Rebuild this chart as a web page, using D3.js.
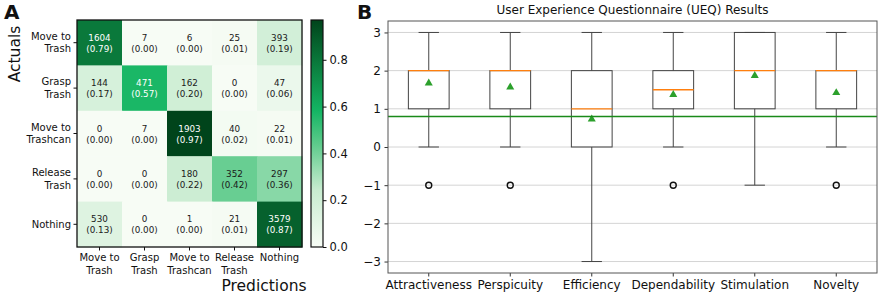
<!DOCTYPE html>
<html>
<head>
<meta charset="utf-8">
<script src="https://cdn.jsdelivr.net/npm/d3@7"></script>
<style>
  body { margin: 0; background: #fff; }
  svg { font-family: "DejaVu Sans", sans-serif; display: block; }
</style>
</head>
<body>
<svg id="chart" width="879" height="295"></svg>
<script>
// Panel A: confusion matrix
const classLabels = ["Move to|Trash", "Grasp|Trash", "Move to|Trashcan", "Release|Trash", "Nothing"]
const counts = [
    [1604, 7, 6, 25, 393],
    [144, 471, 162, 0, 47],
    [0, 7, 1903, 40, 22],
    [0, 0, 180, 352, 297],
    [530, 0, 1, 21, 3579]
]
const fractions = [
    [0.79, 0.00, 0.00, 0.01, 0.19],
    [0.17, 0.57, 0.20, 0.00, 0.06],
    [0.00, 0.00, 0.97, 0.02, 0.01],
    [0.00, 0.00, 0.22, 0.42, 0.36],
    [0.13, 0.00, 0.00, 0.01, 0.87]
]
const colorbarTicks = [0, 0.2, 0.4, 0.6, 0.8]

// Panel B: UEQ box plot
const scales = ["Attractiveness", "Perspicuity", "Efficiency", "Dependability", "Stimulation", "Novelty"]
const whiskerLow = [0, 0, -3, 0, -1, 0]
const q1 = [1, 1, 0, 1, 1, 1]
const medians = [2, 2, 1, 1.5, 2, 2]
const q3 = [2, 2, 2, 2, 3, 2]
const whiskerHigh = [3, 3, 3, 3, 3, 3]
const means = [1.67, 1.57, 0.73, 1.37, 1.87, 1.42]
const outliers = [[-1], [-1], [], [-1], [], [-1]]
const benchmark = 0.8
const yTicks = [-3, -2, -1, 0, 1, 2, 3]

const svg = d3.select("#chart")

// ---------- confusion matrix ----------
const hm = { left: 77, top: 20, right: 302, bottom: 247 }
const idx = d3.range(classLabels.length)

const xCell = d3.scaleBand().domain(idx).range([hm.left, hm.right])
const yCell = d3.scaleBand().domain(idx).range([hm.top, hm.bottom])

const vmax = 0.97
const color = d3.scaleLinear()
    .domain([0, 0.25 * vmax, 0.45 * vmax, 0.6 * vmax, 0.8 * vmax, vmax])
    .range(["#f7fcf5", "#c8ecd0", "#5fcb8c", "#14b563", "#0b7d3e", "#00441b"])
    .clamp(true)

const cells = []
counts.forEach((row, r) => row.forEach((c, k) => cells.push({ r: r, c: k, n: c, f: fractions[r][k] })))

const heat = svg.append("g").attr("class", "heatmap")

heat.selectAll("rect.cell")
    .data(cells)
    .enter().append("rect")
    .attr("class", "cell")
    .attr("x", d => xCell(d.c))
    .attr("y", d => yCell(d.r))
    .attr("width", xCell.bandwidth() + 0.5)
    .attr("height", yCell.bandwidth() + 0.5)
    .attr("fill", d => color(d.f))

const cellText = heat.selectAll("text.cell")
    .data(cells)
    .enter().append("text")
    .attr("class", "cell")
    .attr("text-anchor", "middle")
    .attr("font-size", "8.8px")
    .attr("fill", d => d.f > 0.485 ? "#ffffff" : "#1a1a1a")

cellText.append("tspan")
    .attr("x", d => xCell(d.c) + xCell.bandwidth() / 2)
    .attr("y", d => yCell(d.r) + yCell.bandwidth() / 2 - 2)
    .text(d => d.n)
cellText.append("tspan")
    .attr("x", d => xCell(d.c) + xCell.bandwidth() / 2)
    .attr("y", d => yCell(d.r) + yCell.bandwidth() / 2 + 9)
    .text(d => "(" + d.f.toFixed(2) + ")")

heat.append("rect")
    .attr("x", hm.left).attr("y", hm.top)
    .attr("width", hm.right - hm.left).attr("height", hm.bottom - hm.top)
    .attr("fill", "none").attr("stroke", "#111").attr("stroke-width", 1.3)

// row labels
const rowAxis = heat.append("g")
rowAxis.selectAll("line")
    .data(idx).enter().append("line")
    .attr("x1", hm.left - 3.5).attr("x2", hm.left)
    .attr("y1", d => yCell(d) + yCell.bandwidth() / 2)
    .attr("y2", d => yCell(d) + yCell.bandwidth() / 2)
    .attr("stroke", "#111")
rowAxis.selectAll("text")
    .data(idx).enter().append("text")
    .attr("text-anchor", "end")
    .attr("font-size", "10px")
    .attr("fill", "#111")
    .each(function (d) {
        const parts = classLabels[d].split("|")
        const cy = yCell(d) + yCell.bandwidth() / 2
        const t = d3.select(this)
        parts.forEach((p, i) => {
            t.append("tspan")
                .attr("x", hm.left - 6)
                .attr("y", cy + 3.5 + (i - (parts.length - 1) / 2) * 12.5)
                .text(p)
        })
    })

// column labels
const colAxis = heat.append("g")
colAxis.selectAll("line")
    .data(idx).enter().append("line")
    .attr("y1", hm.bottom).attr("y2", hm.bottom + 3.5)
    .attr("x1", d => xCell(d) + xCell.bandwidth() / 2)
    .attr("x2", d => xCell(d) + xCell.bandwidth() / 2)
    .attr("stroke", "#111")
colAxis.selectAll("text")
    .data(idx).enter().append("text")
    .attr("text-anchor", "middle")
    .attr("font-size", "10px")
    .attr("fill", "#111")
    .each(function (d) {
        const parts = classLabels[d].split("|")
        const t = d3.select(this)
        parts.forEach((p, i) => {
            t.append("tspan")
                .attr("x", xCell(d) + xCell.bandwidth() / 2)
                .attr("y", hm.bottom + 14 + i * 12.5)
                .text(p)
        })
    })

svg.append("text")
    .attr("transform", "translate(20,54) rotate(-90)")
    .attr("text-anchor", "middle")
    .attr("font-size", "15.5px")
    .attr("fill", "#111")
    .text("Actuals")

svg.append("text")
    .attr("x", 264).attr("y", 291)
    .attr("text-anchor", "middle")
    .attr("font-size", "15.5px")
    .attr("fill", "#111")
    .text("Predictions")

// colorbar
const cb = { x: 311, w: 12 }
const cbScale = d3.scaleLinear().domain([0, vmax]).range([hm.bottom, hm.top])
const defs = svg.append("defs")
const grad = defs.append("linearGradient")
    .attr("id", "cbgrad")
    .attr("x1", 0).attr("y1", 1).attr("x2", 0).attr("y2", 0)
d3.range(0, 1.0001, 0.05).forEach(t => {
    grad.append("stop")
        .attr("offset", t)
        .attr("stop-color", color(t * vmax))
})
svg.append("rect")
    .attr("x", cb.x).attr("y", hm.top)
    .attr("width", cb.w).attr("height", hm.bottom - hm.top)
    .attr("fill", "url(#cbgrad)")
    .attr("stroke", "#111").attr("stroke-width", 1.2)

const cbAxis = svg.append("g")
    .attr("transform", "translate(" + (cb.x + cb.w) + ",0)")
    .call(d3.axisRight(cbScale).tickValues(colorbarTicks).tickFormat(d3.format(".1f")).tickSize(3.5).tickPadding(3))
cbAxis.select(".domain").remove()
cbAxis.selectAll("line").attr("stroke", "#111")
cbAxis.selectAll("text").attr("font-size", "11.5px").attr("fill", "#111").attr("font-family", "DejaVu Sans")

// panel letters
svg.append("text").attr("x", 4).attr("y", 19)
    .attr("font-size", "20px").attr("font-weight", "bold").attr("fill", "#111").text("A")
svg.append("text").attr("x", 357).attr("y", 19)
    .attr("font-size", "20px").attr("font-weight", "bold").attr("fill", "#111").text("B")

// ---------- UEQ box plot ----------
const bx = { left: 388, right: 877, top: 21, bottom: 273 }
const x = d3.scaleBand().domain(scales).range([bx.left, bx.right])
const y = d3.scaleLinear().domain([-3.3, 3.3]).range([bx.bottom, bx.top])
const boxW = x.bandwidth() * 0.5
const capW = boxW * 0.5
const cx = s => x(s) + x.bandwidth() / 2

const box = svg.append("g").attr("class", "ueq")

// grid
box.selectAll("line.grid")
    .data(yTicks).enter().append("line")
    .attr("class", "grid")
    .attr("x1", bx.left).attr("x2", bx.right)
    .attr("y1", d => y(d)).attr("y2", d => y(d))
    .attr("stroke", "#d4d4d4").attr("stroke-width", 1)

// y axis
const yAxis = box.append("g")
    .attr("transform", "translate(" + bx.left + ",0)")
    .call(d3.axisLeft(y).tickValues(yTicks).tickFormat(d3.format("d")).tickSize(3.5).tickPadding(3.5))
yAxis.select(".domain").remove()
yAxis.selectAll("line").attr("stroke", "#333")
yAxis.selectAll("text").attr("font-size", "12px").attr("fill", "#111").attr("font-family", "DejaVu Sans")
    .text(d => d < 0 ? "\u2212" + Math.abs(d) : d)

// x axis
const xAxis = box.append("g")
    .attr("transform", "translate(0," + bx.bottom + ")")
    .call(d3.axisBottom(x).tickSize(3.5).tickPadding(4))
xAxis.select(".domain").remove()
xAxis.selectAll("line").attr("stroke", "#333")
xAxis.selectAll("text").attr("font-size", "12px").attr("fill", "#111").attr("font-family", "DejaVu Sans")

const groups = box.selectAll("g.box")
    .data(scales.map((s, i) => ({ s: s, i: i })))
    .enter().append("g").attr("class", "box")

// whiskers
groups.append("line")
    .attr("x1", d => cx(d.s)).attr("x2", d => cx(d.s))
    .attr("y1", d => y(whiskerLow[d.i])).attr("y2", d => y(q1[d.i]))
    .attr("stroke", "#444")
groups.append("line")
    .attr("x1", d => cx(d.s)).attr("x2", d => cx(d.s))
    .attr("y1", d => y(q3[d.i])).attr("y2", d => y(whiskerHigh[d.i]))
    .attr("stroke", "#444")
// caps
groups.append("line")
    .attr("x1", d => cx(d.s) - capW / 2).attr("x2", d => cx(d.s) + capW / 2)
    .attr("y1", d => y(whiskerLow[d.i])).attr("y2", d => y(whiskerLow[d.i]))
    .attr("stroke", "#444")
groups.append("line")
    .attr("x1", d => cx(d.s) - capW / 2).attr("x2", d => cx(d.s) + capW / 2)
    .attr("y1", d => y(whiskerHigh[d.i])).attr("y2", d => y(whiskerHigh[d.i]))
    .attr("stroke", "#444")
// boxes
groups.append("rect")
    .attr("x", d => cx(d.s) - boxW / 2)
    .attr("y", d => y(q3[d.i]))
    .attr("width", boxW)
    .attr("height", d => y(q1[d.i]) - y(q3[d.i]))
    .attr("fill", "none").attr("stroke", "#444")
// medians
groups.append("line")
    .attr("x1", d => cx(d.s) - boxW / 2).attr("x2", d => cx(d.s) + boxW / 2)
    .attr("y1", d => y(medians[d.i])).attr("y2", d => y(medians[d.i]))
    .attr("stroke", "#ff7f0e").attr("stroke-width", 1.3)
// outliers
groups.selectAll("circle")
    .data(d => outliers[d.i].map(v => ({ s: d.s, v: v })))
    .enter().append("circle")
    .attr("cx", d => cx(d.s)).attr("cy", d => y(d.v))
    .attr("r", 3).attr("fill", "none").attr("stroke", "#111").attr("stroke-width", 1.4)

// benchmark line
box.append("line")
    .attr("x1", bx.left).attr("x2", bx.right)
    .attr("y1", y(benchmark)).attr("y2", y(benchmark))
    .attr("stroke", "#1a8a1a").attr("stroke-width", 1.4)

// means
groups.append("path")
    .attr("d", d3.symbol().type(d3.symbolTriangle).size(28))
    .attr("transform", d => "translate(" + cx(d.s) + "," + y(means[d.i]) + ")")
    .attr("fill", "#2ca02c")

// frame
box.append("rect")
    .attr("x", bx.left).attr("y", bx.top)
    .attr("width", bx.right - bx.left).attr("height", bx.bottom - bx.top)
    .attr("fill", "none").attr("stroke", "#555").attr("stroke-width", 1)

box.append("text")
    .attr("x", (bx.left + bx.right) / 2).attr("y", 14)
    .attr("text-anchor", "middle")
    .attr("font-size", "12px")
    .attr("fill", "#111")
    .text("User Experience Questionnaire (UEQ) Results")
</script>
</body>
</html>
